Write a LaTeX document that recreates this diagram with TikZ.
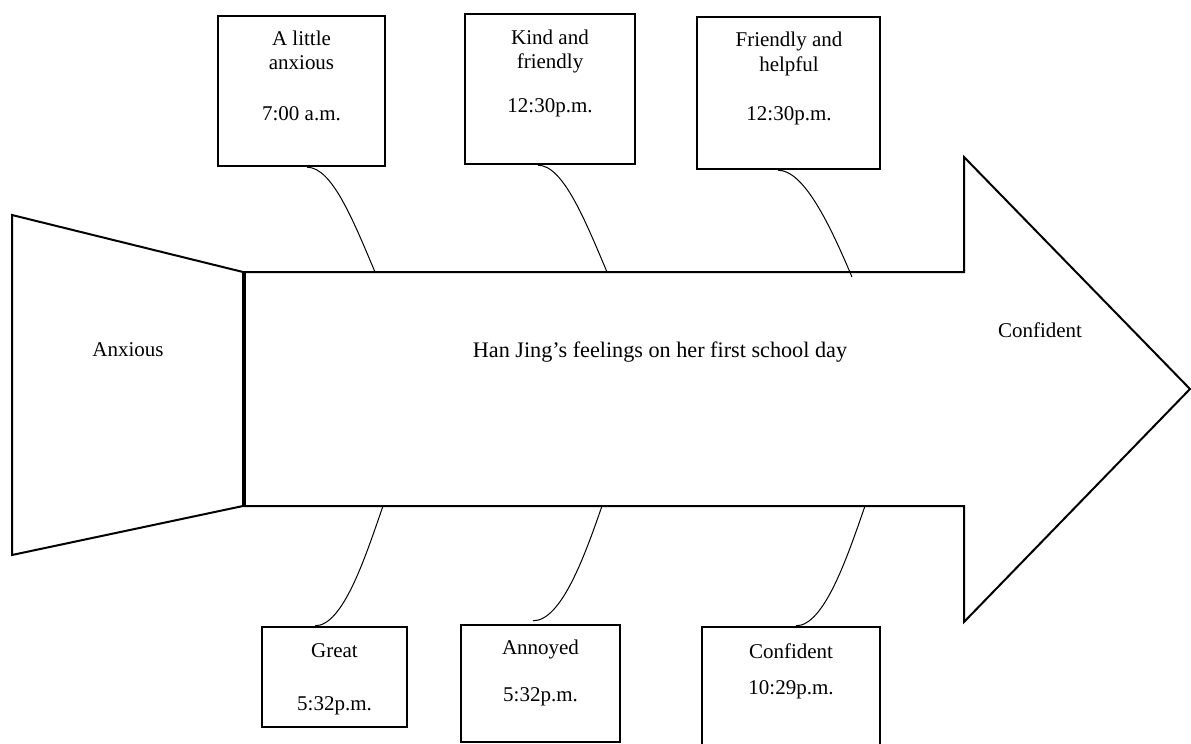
\documentclass[tikz,border=0pt]{standalone}
\usepackage{fontspec}
\setmainfont{Liberation Serif}
\begin{document}
\begin{tikzpicture}[x=0.5pt,y=-0.5pt,
  every node/.style={font=\fontsize{10.5pt}{13pt}\selectfont},
  box/.style={draw,line width=1.2pt,inner sep=0pt},
  lbl/.style={inner sep=0pt,align=center},
  outline/.style={draw,line width=1pt,line join=miter},
  link/.style={draw,line width=0.5pt}]
\useasboundingbox (0,0) rectangle (1191,744);

% tail of the fish
\draw[outline] (12,215) -- (243,272) -- (243,506) -- (12,555) -- cycle;
\draw[line width=2pt] (244,272) -- (244,506);

% body and head arrow
\draw[outline] (244,272) -- (964,272) -- (964,157) -- (1190,389)
  -- (964,622) -- (964,506) -- (244,506);

% points where the bones meet the arrow
\coordinate (t1) at (375,272);
\coordinate (t2) at (607,272);
\coordinate (t3) at (852,277);
\coordinate (u1) at (383,506);
\coordinate (u2) at (602,506);
\coordinate (u3) at (865,506);

% main labels
\node[lbl] (tail) at (128,350) {Anxious};
\node[lbl,font=\fontsize{11.1pt}{13pt}\selectfont] (title) at (660,352) {Han Jing’s feelings on her first school day};
\node[lbl] (head) at (1040,330) {Confident};

% upper boxes
\node[box,minimum width=83.5pt,minimum height=75pt] (b1) at (301.5,91) {};
\node[box,minimum width=85pt,minimum height=75pt] (b2) at (550,89) {};
\node[box,minimum width=91.5pt,minimum height=76pt] (b3) at (788.5,93) {};
\node[lbl] (b1a) at (301.5,38.5) {A little};
\node[lbl] (b1b) at (301.5,63) {anxious};
\node[lbl] (b1c) at (301.5,114) {7:00 a.m.};
\node[lbl] (b2a) at (550,37) {Kind and};
\node[lbl] (b2b) at (550,63) {friendly};
\node[lbl] (b2c) at (550,108) {12:30p.m.};
\node[lbl] (b3a) at (789,41) {Friendly and};
\node[lbl] (b3b) at (789,66) {helpful};
\node[lbl] (b3c) at (789,116) {12:30p.m.};

% lower boxes
\node[box,minimum width=72.5pt,minimum height=50pt] (b4) at (334.5,677) {};
\node[box,minimum width=79.5pt,minimum height=58.5pt] (b5) at (540.5,683.5) {};
\node[box,minimum width=89pt,minimum height=70pt] (b6) at (791,697) {};
\node[lbl] (b4a) at (334.5,651) {Great};
\node[lbl] (b4b) at (334.5,706) {5:32p.m.};
\node[lbl] (b5a) at (540.5,649) {Annoyed};
\node[lbl] (b5b) at (540.5,697) {5:32p.m.};
\node[lbl] (b6a) at (791,651) {Confident};
\node[lbl] (b6b) at (791,690) {10:29p.m.};

% bones joining the boxes to the arrow
\draw[link] ([xshift=2.75pt]b1.south) .. controls +(25,0) and +(-22,-52) .. (t1);
\draw[link] ([xshift=-6pt]b2.south) .. controls +(25,0) and +(-22,-52) .. (t2);
\draw[link] ([xshift=-5.25pt]b3.south) .. controls +(26,0) and +(-22,-52) .. (t3);
\draw[link] (u1) .. controls +(-18,52) and +(28,0) .. ([xshift=-9.75pt]b4.north);
\draw[link] (u2) .. controls +(-18,52) and +(28,0) .. ([xshift=-3.75pt,yshift=1.5pt]b5.north);
\draw[link] (u3) .. controls +(-18,52) and +(28,0) .. ([xshift=2.5pt]b6.north);
\end{tikzpicture}
\end{document}
